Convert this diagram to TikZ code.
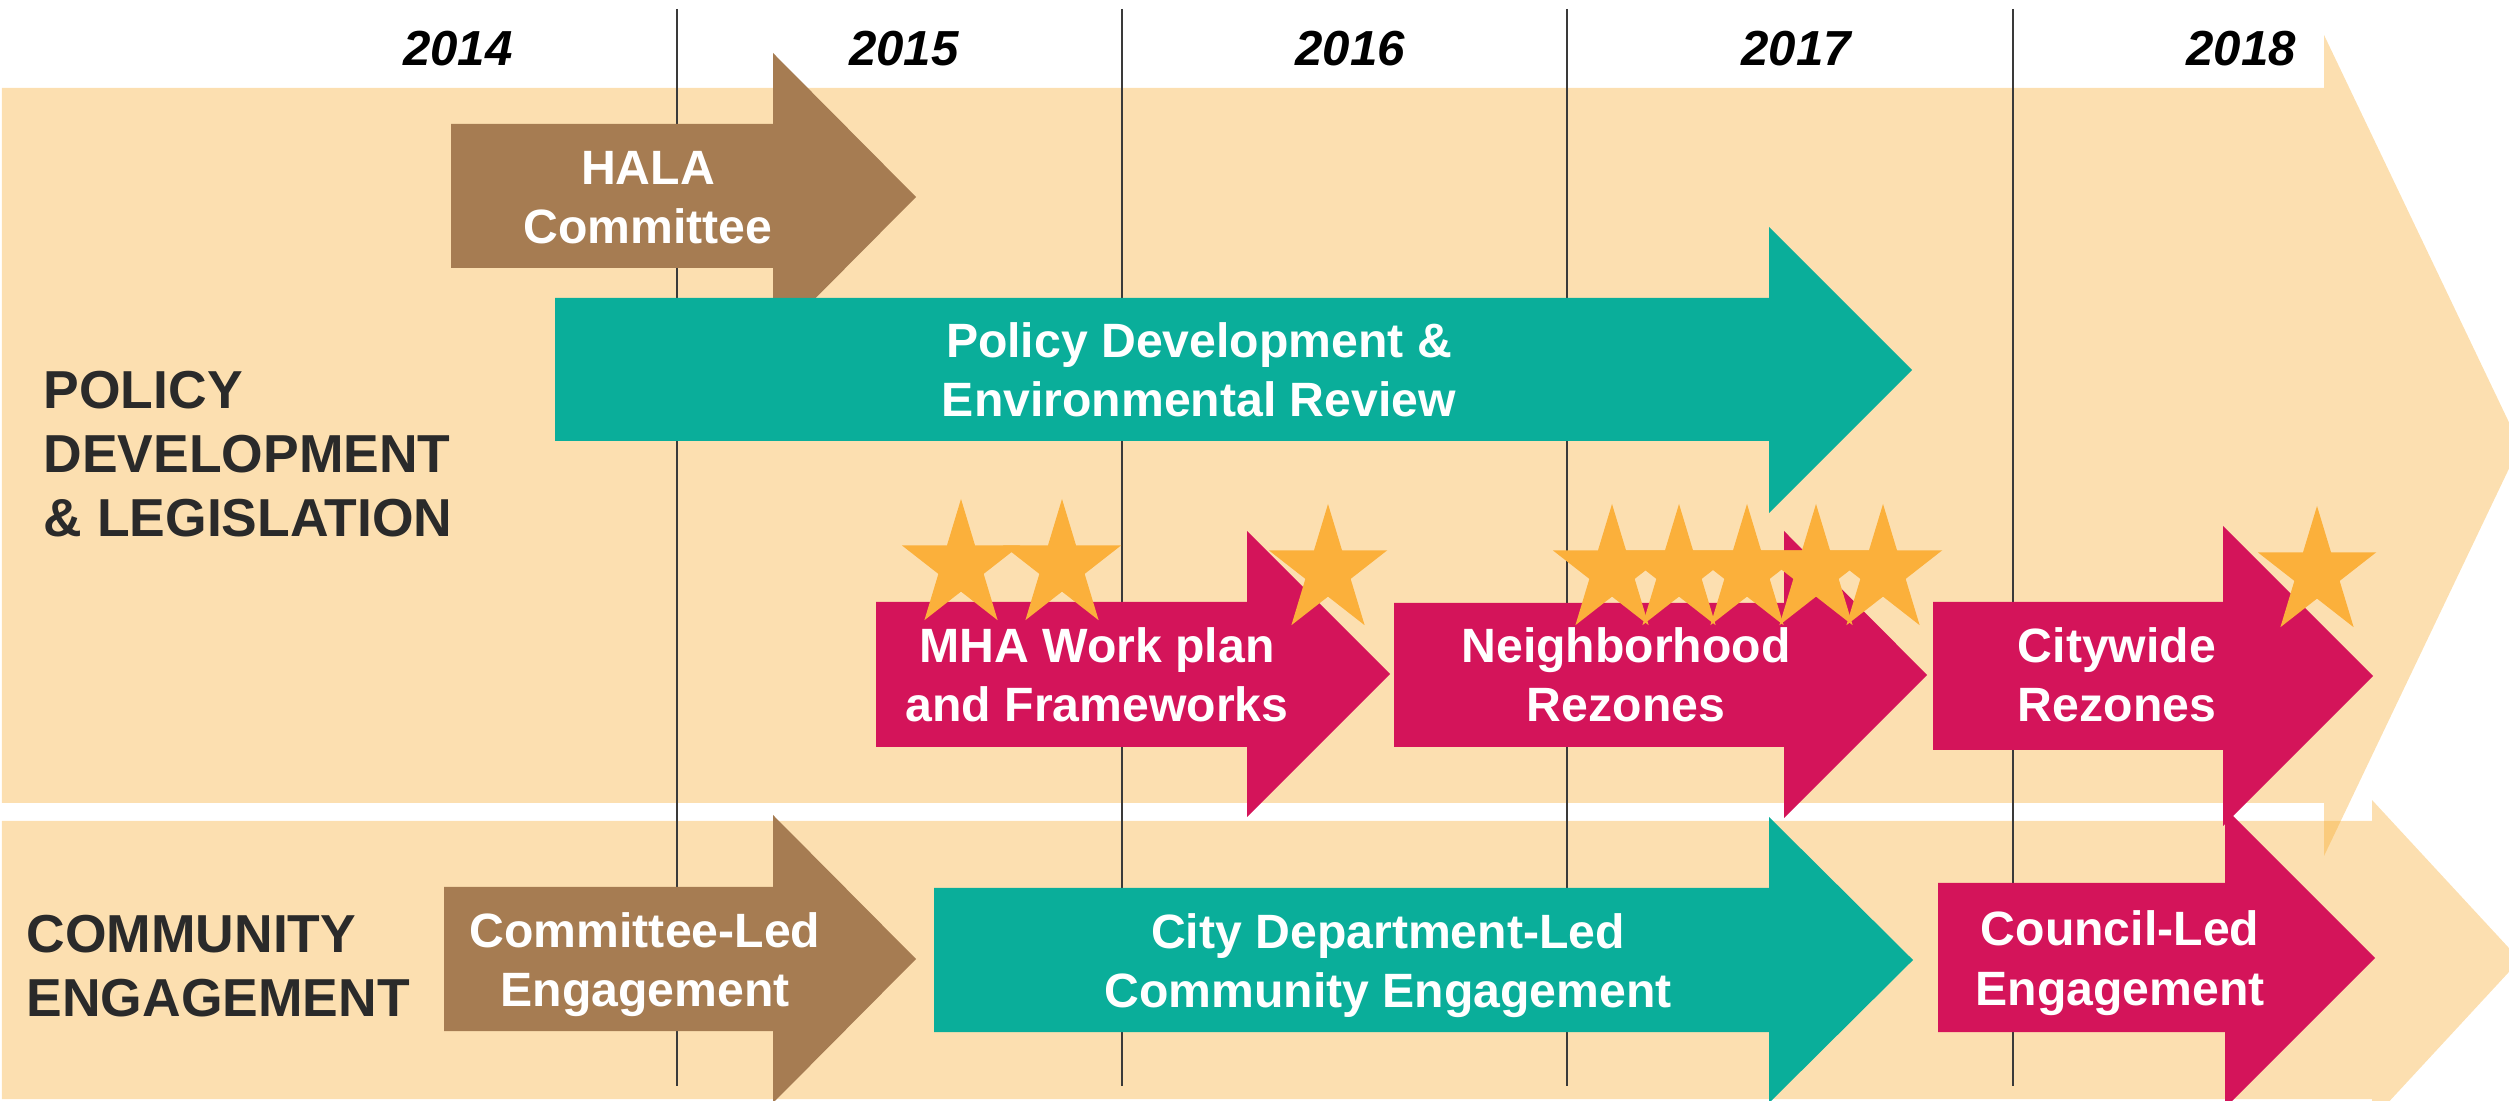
\documentclass[tikz,border=0pt]{standalone}
\usepackage{fontspec}
\setmainfont{Liberation Sans}
\definecolor{bandbase}{HTML}{F7A41D}
\definecolor{tealc}{HTML}{0AAE9A}
\definecolor{magc}{HTML}{D4145A}
\definecolor{brownc}{HTML}{A67C52}
\definecolor{starc}{HTML}{FBB03B}
\definecolor{sidetext}{HTML}{2A2A2A}
\definecolor{gridcol}{HTML}{3A3A3A}
\tikzset{
  band/.style={fill=bandbase, fill opacity=0.35},
  gridline/.style={draw=gridcol, line width=0.45pt},
  yr/.style={font=\fontsize{14}{16}\selectfont\bfseries\itshape, anchor=base, inner sep=0pt},
  lbl/.style={font=\fontsize{13.7}{16.8}\selectfont\bfseries, text=white, align=center, anchor=base, inner sep=0pt},
  side/.style={font=\fontsize{15.2}{18.2}\selectfont\bfseries, text=sidetext, align=left, anchor=base west, inner sep=0pt},
  starpic/.pic={\fill[starc, xscale=0.93] (-90:67) -- (-54:25.6) -- (-18:67) -- (18:25.6) -- (54:67) -- (90:25.6) -- (126:67) -- (162:25.6) -- (198:67) -- (234:25.6) -- cycle;}
}
\begin{document}
\begin{tikzpicture}[x=0.01cm, y=-0.01cm]
\useasboundingbox (0,0) rectangle (2509,1101);
% background bands
\fill[band] (2,88) -- (2324,88) -- (2324,35) -- (2520,445.5) -- (2324,856) -- (2324,803) -- (2,803) -- cycle;
\fill[band] (2,821) -- (2372,821) -- (2372,800) -- (2520,960) -- (2372,1120) -- (2372,1099) -- (2,1099) -- cycle;
% year grid lines
\foreach \gx in {677,1122,1567,2013} {\draw[gridline] (\gx,9) -- (\gx,1086);}
% policy arrows
\fill[brownc] (451,124) -- (773,124) -- (773,53) -- (916,197) -- (773,341) -- (773,268) -- (451,268) -- cycle;
\fill[tealc] (555,298) -- (1769,298) -- (1769,227) -- (1912,370) -- (1769,513) -- (1769,441) -- (555,441) -- cycle;
\fill[magc] (876,602) -- (1247,602) -- (1247,531) -- (1390,674) -- (1247,817) -- (1247,747) -- (876,747) -- cycle;
\fill[magc] (1394,603) -- (1784,603) -- (1784,531) -- (1927,675) -- (1784,818) -- (1784,747) -- (1394,747) -- cycle;
\fill[magc] (1933,602) -- (2223,602) -- (2223,526) -- (2373,676) -- (2223,826) -- (2223,750) -- (1933,750) -- cycle;
% engagement arrows
\fill[brownc] (444,887) -- (773,887) -- (773,815) -- (916,959) -- (773,1103) -- (773,1031) -- (444,1031) -- cycle;
\fill[tealc] (934,888) -- (1769,888) -- (1769,817) -- (1913,960) -- (1769,1103) -- (1769,1032) -- (934,1032) -- cycle;
\fill[magc] (1938,883) -- (2225,883) -- (2225,808) -- (2375,958) -- (2225,1108) -- (2225,1032) -- (1938,1032) -- cycle;
% stars
\foreach \sx/\sy in {961/566,1062/566,1328/571,1612/571,1679/571,1747/571,1816/571,1883/571,2317/573}
  {\pic at (\sx,\sy) {starpic};}
% years
\node[yr] (y14) at (458,66) {2014};
\node[yr] (y15) at (904,66) {2015};
\node[yr] (y16) at (1350,66) {2016};
\node[yr] (y17) at (1796,66) {2017};
\node[yr] (y18) at (2241,66) {2018};
% side labels
\node[side] (pol) at (43,537) {POLICY\\DEVELOPMENT\\\& LEGISLATION};
\node[side] (com) at (26,1017) {COMMUNITY\\ENGAGEMENT};
% arrow labels
\node[lbl] (hala) at (648,244) {HALA\\Committee};
\node[lbl] (poldev) at (1199,417) {Policy Development \&\\Environmental Review};
\node[lbl] (mha) at (1097,722) {MHA Work plan\\and Frameworks};
\node[lbl] (nbr) at (1626,722) {Neighborhood\\Rezones};
\node[lbl] (city) at (2117,722) {Citywide\\Rezones};
\node[lbl] (cled) at (645,1007) {Committee-Led\\Engagement};
\node[lbl] (dept) at (1388,1008) {City Department-Led\\Community Engagement};
\node[lbl] (coun) at (2120,1005) {Council-Led\\Engagement};
\end{tikzpicture}
\end{document}
